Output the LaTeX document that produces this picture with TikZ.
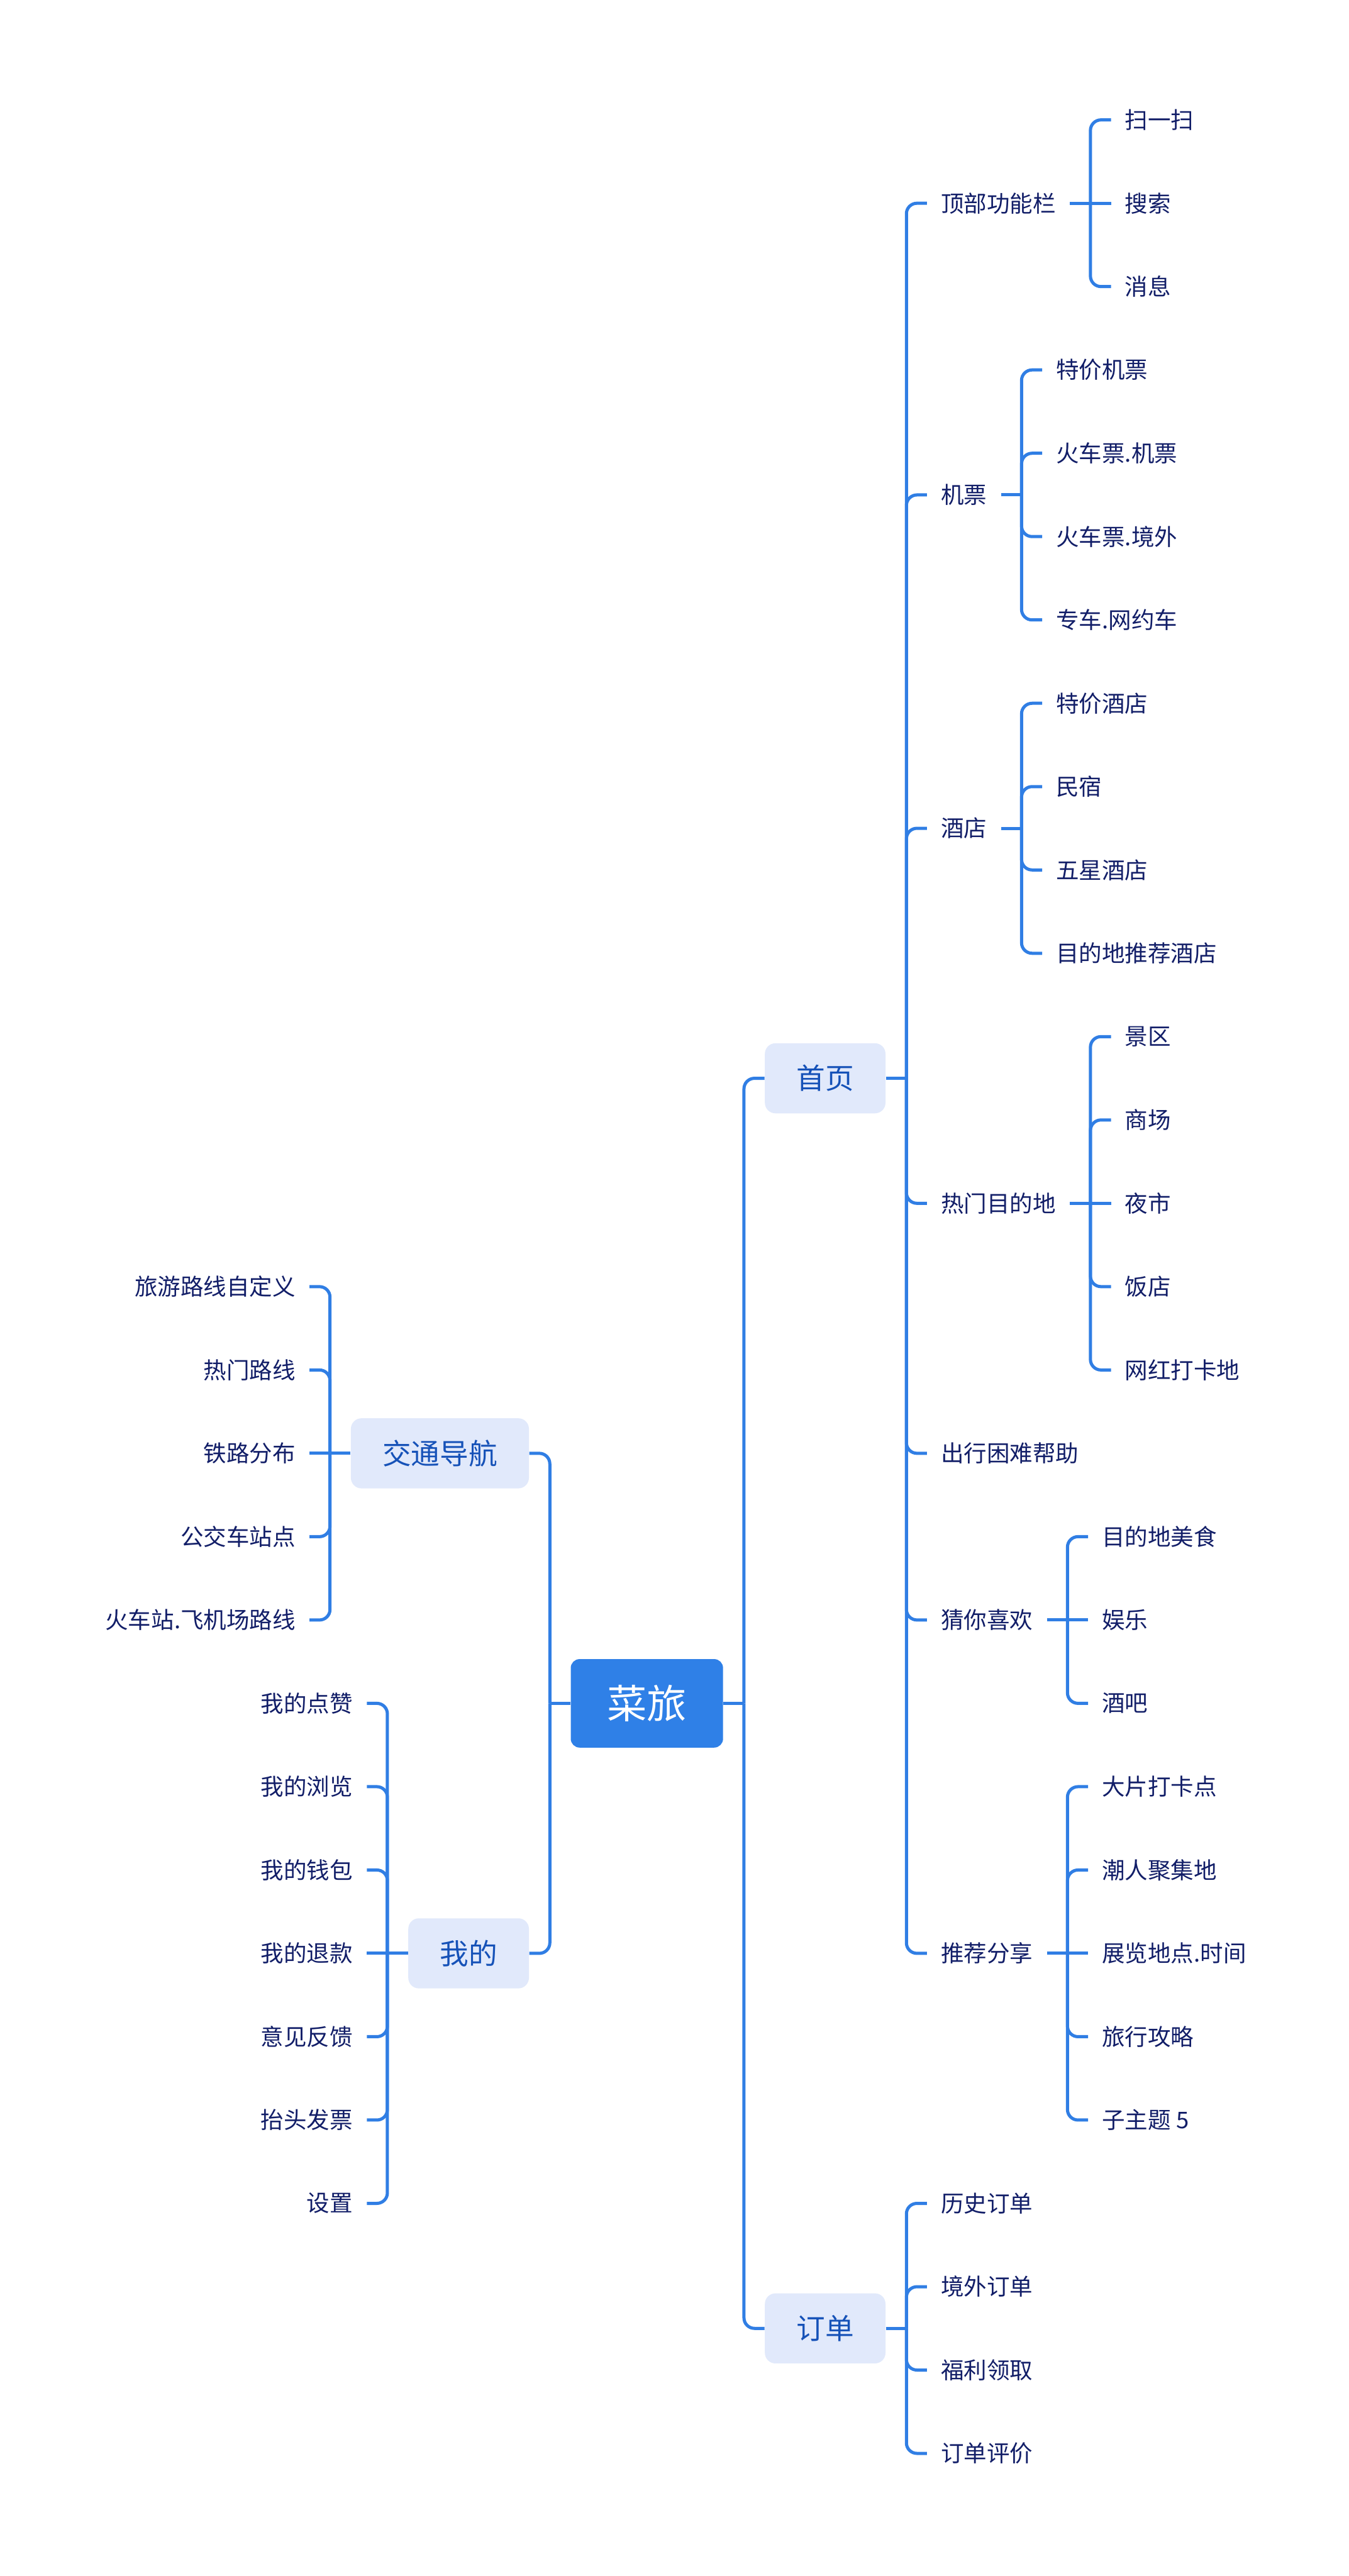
\documentclass[tikz,border=0pt]{standalone}
\usepackage{fontspec}
\setmainfont{Noto Sans CJK SC}
\definecolor{linkblue}{RGB}{48, 126, 228}
\definecolor{rootblue}{RGB}{47, 128, 231}
\definecolor{topicfill}{RGB}{225, 233, 251}
\definecolor{topictext}{RGB}{22, 82, 184}
\definecolor{leaftext}{RGB}{18, 30, 104}
\usetikzlibrary{positioning, calc}
\tikzset{
	rootnode/.style={rectangle, rounded corners=4.8pt, fill=rootblue, text=white, inner xsep=0.69cm, inner ysep=0pt, minimum height=1.68cm, font=\fontsize{21.5pt}{24pt}\selectfont},
	topic/.style={rectangle, rounded corners=5.7pt, fill=topicfill, text=topictext, inner xsep=0.6cm, inner ysep=0pt, minimum height=1.33cm, font=\fontsize{15.5pt}{18pt}\selectfont},
	leaf/.style={rectangle, inner xsep=0.26cm, inner ysep=0pt, minimum height=0.8cm, text=leaftext, font=\fontsize{12.4pt}{14pt}\selectfont},
	link/.style={draw=linkblue, line width=1.7pt, rounded corners=0.2cm},
}

\begin{document}
\begin{tikzpicture}
		\fill[white] (0,0) rectangle (25.6,-48.9);
		\useasboundingbox (0,0) rectangle (25.6,-48.9);

		% root and main topics
		\node[rootnode] (cailv) at (12.28,-32.334) {菜旅};
		\node[topic, anchor=west, xshift=7.8mm] (home) at (cailv.east |- 0,-20.469) {首页};
		\node[topic, anchor=west, xshift=7.8mm] (order) at (cailv.east |- 0,-44.199) {订单};
		\node[topic, anchor=east, xshift=-7.8mm] (traffic) at (cailv.west |- 0,-27.588) {交通导航};
		\node[topic, anchor=east, xshift=-7.8mm] (mine) at (cailv.west |- 0,-37.080) {我的};

		\draw[link] (cailv.east) -- ++(0.39,0);
		\draw[link] ([xshift=3.9mm]cailv.east) |- (home.west);
		\draw[link] ([xshift=3.9mm]cailv.east) |- (order.west);
		\draw[link] (cailv.west) -- ++(-0.39,0);
		\draw[link] ([xshift=-3.9mm]cailv.west) |- (traffic.east);
		\draw[link] ([xshift=-3.9mm]cailv.west) |- (mine.east);

		% 首页
		\foreach \n/\y/\t in {topbar/3.858/顶部功能栏, ticket/9.395/机票, hotel/15.723/酒店, hot/22.842/热门目的地, help/27.588/出行困难帮助, guess/30.752/猜你喜欢, share/37.080/推荐分享}
			\node[leaf, anchor=west, xshift=7.8mm] (\n) at (home.east |- 0,-\y) {\t};
		\draw[link] (home.east) -- ++(0.39,0);
		\foreach \n in {topbar, ticket, hotel, hot, help, guess, share}
			\draw[link] ([xshift=3.9mm]home.east) |- (\n.west);

		% 顶部功能栏
		\foreach \n/\y/\t in {scan/2.276/扫一扫, search/3.858/搜索, msg/5.440/消息}
			\node[leaf, anchor=west, xshift=7.8mm] (\n) at (topbar.east |- 0,-\y) {\t};
		\draw[link] (topbar.east) -- (search.west);
		\foreach \n in {scan, msg}
			\draw[link] ([xshift=3.9mm]topbar.east) |- (\n.west);

		% 机票
		\foreach \n/\y/\t in {tk1/7.022/特价机票, tk2/8.604/火车票.机票, tk3/10.186/火车票.境外, tk4/11.768/专车.网约车}
			\node[leaf, anchor=west, xshift=7.8mm] (\n) at (ticket.east |- 0,-\y) {\t};
		\draw[link] (ticket.east) -- ++(0.39,0);
		\foreach \n in {tk1, tk2, tk3, tk4}
			\draw[link] ([xshift=3.9mm]ticket.east) |- (\n.west);

		% 酒店
		\foreach \n/\y/\t in {ht1/13.350/特价酒店, ht2/14.932/民宿, ht3/16.514/五星酒店, ht4/18.096/目的地推荐酒店}
			\node[leaf, anchor=west, xshift=7.8mm] (\n) at (hotel.east |- 0,-\y) {\t};
		\draw[link] (hotel.east) -- ++(0.39,0);
		\foreach \n in {ht1, ht2, ht3, ht4}
			\draw[link] ([xshift=3.9mm]hotel.east) |- (\n.west);

		% 热门目的地
		\foreach \n/\y/\t in {hd1/19.678/景区, hd2/21.260/商场, hd3/22.842/夜市, hd4/24.424/饭店, hd5/26.006/网红打卡地}
			\node[leaf, anchor=west, xshift=7.8mm] (\n) at (hot.east |- 0,-\y) {\t};
		\draw[link] (hot.east) -- (hd3.west);
		\foreach \n in {hd1, hd2, hd4, hd5}
			\draw[link] ([xshift=3.9mm]hot.east) |- (\n.west);

		% 猜你喜欢
		\foreach \n/\y/\t in {gs1/29.170/目的地美食, gs2/30.752/娱乐, gs3/32.334/酒吧}
			\node[leaf, anchor=west, xshift=7.8mm] (\n) at (guess.east |- 0,-\y) {\t};
		\draw[link] (guess.east) -- (gs2.west);
		\foreach \n in {gs1, gs3}
			\draw[link] ([xshift=3.9mm]guess.east) |- (\n.west);

		% 推荐分享
		\foreach \n/\y/\t in {sh1/33.916/大片打卡点, sh2/35.498/潮人聚集地, sh3/37.080/展览地点.时间, sh4/38.662/旅行攻略, sh5/40.244/子主题 5}
			\node[leaf, anchor=west, xshift=7.8mm] (\n) at (share.east |- 0,-\y) {\t};
		\draw[link] (share.east) -- (sh3.west);
		\foreach \n in {sh1, sh2, sh4, sh5}
			\draw[link] ([xshift=3.9mm]share.east) |- (\n.west);

		% 订单
		\foreach \n/\y/\t in {od1/41.826/历史订单, od2/43.408/境外订单, od3/44.990/福利领取, od4/46.572/订单评价}
			\node[leaf, anchor=west, xshift=7.8mm] (\n) at (order.east |- 0,-\y) {\t};
		\draw[link] (order.east) -- ++(0.39,0);
		\foreach \n in {od1, od2, od3, od4}
			\draw[link] ([xshift=3.9mm]order.east) |- (\n.west);

		% 交通导航
		\foreach \n/\y/\t in {tr1/24.424/旅游路线自定义, tr2/26.006/热门路线, tr3/27.588/铁路分布, tr4/29.170/公交车站点, tr5/30.752/火车站.飞机场路线}
			\node[leaf, anchor=east, xshift=-7.8mm] (\n) at (traffic.west |- 0,-\y) {\t};
		\draw[link] (traffic.west) -- (tr3.east);
		\foreach \n in {tr1, tr2, tr4, tr5}
			\draw[link] ([xshift=-3.9mm]traffic.west) |- (\n.east);

		% 我的
		\foreach \n/\y/\t in {mi1/32.334/我的点赞, mi2/33.916/我的浏览, mi3/35.498/我的钱包, mi4/37.080/我的退款, mi5/38.662/意见反馈, mi6/40.244/抬头发票, mi7/41.826/设置}
			\node[leaf, anchor=east, xshift=-7.8mm] (\n) at (mine.west |- 0,-\y) {\t};
		\draw[link] (mine.west) -- (mi4.east);
		\foreach \n in {mi1, mi2, mi3, mi5, mi6, mi7}
			\draw[link] ([xshift=-3.9mm]mine.west) |- (\n.east);
	\end{tikzpicture}
\end{document}
